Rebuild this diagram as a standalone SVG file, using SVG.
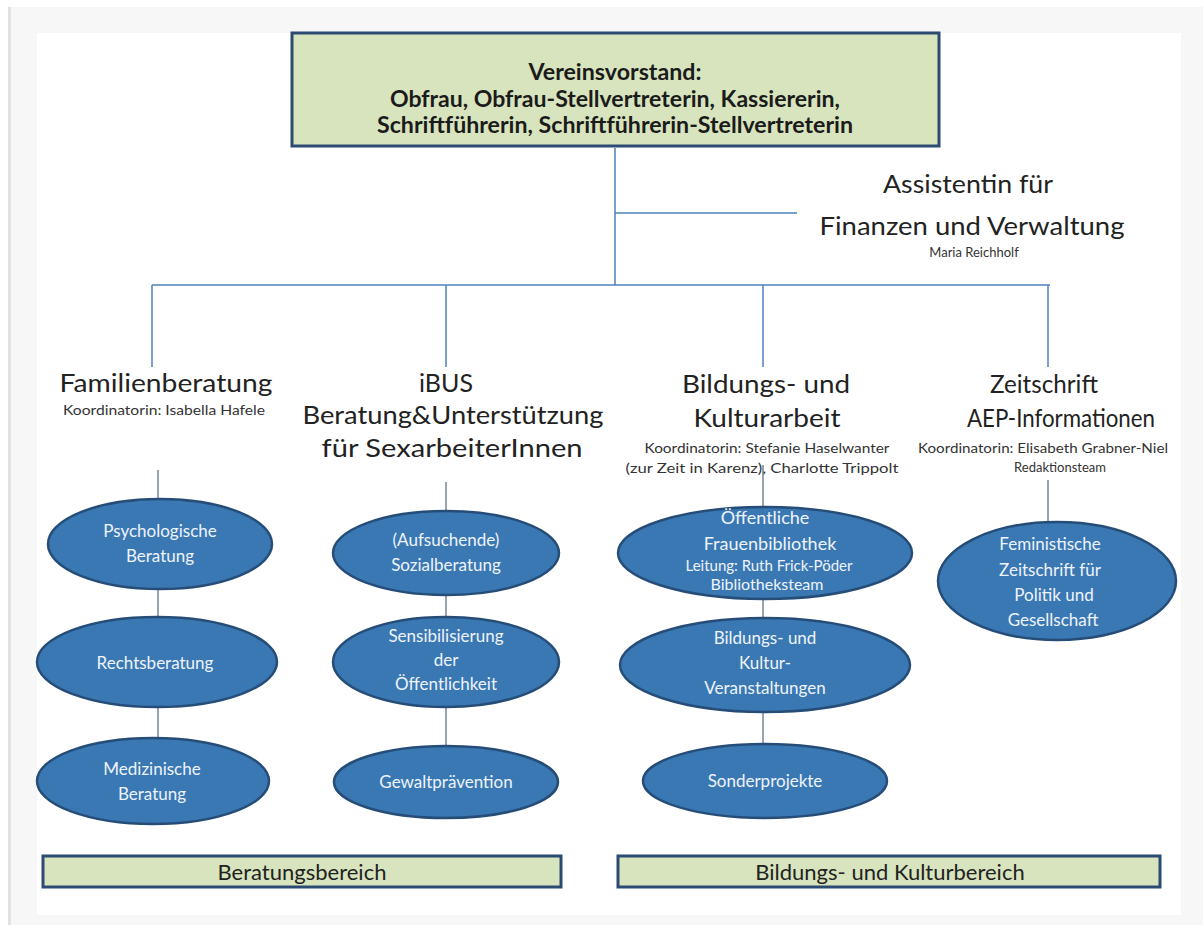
<svg xmlns="http://www.w3.org/2000/svg" width="1203" height="925" viewBox="0 0 1203 925">
<style>
text{font-family:Lato,"Open Sans","Liberation Sans",sans-serif;text-anchor:middle}
.b{font-weight:700;font-size:22px;fill:#1b1b1b}
.h{font-size:25px;fill:#222}
.s{font-size:13px;fill:#333}
.e{font-size:17px;fill:#eef3fa}
.bar{font-size:22px;fill:#222}
.tree{stroke:#4f81bd;stroke-width:1.5;fill:none}
.chain{stroke:#7a8796;stroke-width:1.5;fill:none}
ellipse{fill:#3a78b4;stroke:#264d78;stroke-width:2.5}
.box{fill:#d7e4bd;stroke:#2b4b73;stroke-width:3}
</style>
<rect x="0" y="0" width="1203" height="925" fill="#ffffff"/>
<rect x="10" y="7" width="1193" height="918" fill="#f7f7f7"/>
<rect x="8" y="7" width="3" height="918" fill="#e2e2e2"/>
<rect x="37" y="33" width="1144" height="882" fill="#ffffff"/>

<g id="connectors">
<path class="tree" d="M615 148V285M615 213H797M152 285H1050M152 285V367M446 285V367M763 285V367M1048 285V367"/>
<path class="chain" d="M158 470V499M158 589V617M158 707V738"/>
<path class="chain" d="M446 482V511M446 595V617M446 707V746"/>
<path class="chain" d="M763 465V507M763 598V618M763 712V744"/>
<path class="chain" d="M1048 480V522"/>
</g>

<g id="vorstand">
<rect class="box" x="292" y="33" width="647" height="113"/>
<text class="b" x="615" y="80" textLength="173" lengthAdjust="spacingAndGlyphs">Vereinsvorstand:</text>
<text class="b" x="615" y="107" textLength="450" lengthAdjust="spacingAndGlyphs">Obfrau, Obfrau-Stellvertreterin, Kassiererin,</text>
<text class="b" x="615" y="133" textLength="476" lengthAdjust="spacingAndGlyphs">Schriftführerin, Schriftführerin-Stellvertreterin</text>
</g>

<g id="assistentin">
<text class="h" x="968" y="193" textLength="170" lengthAdjust="spacingAndGlyphs">Assistentin für</text>
<text class="h" x="972" y="235" textLength="305" lengthAdjust="spacingAndGlyphs">Finanzen und Verwaltung</text>
<text class="s" x="974" y="257">Maria Reichholf</text>
</g>

<g id="familienberatung">
<text class="h" x="166" y="392" textLength="213" lengthAdjust="spacingAndGlyphs">Familienberatung</text>
<text class="s" x="164" y="415" textLength="202" lengthAdjust="spacingAndGlyphs">Koordinatorin: Isabella Hafele</text>
</g>

<g id="ibus">
<text class="h" x="446" y="392">iBUS</text>
<text class="h" x="453" y="424" textLength="301" lengthAdjust="spacingAndGlyphs">Beratung&amp;Unterstützung</text>
<text class="h" x="452" y="457" textLength="261" lengthAdjust="spacingAndGlyphs">für SexarbeiterInnen</text>
</g>

<g id="bildung">
<text class="h" x="766" y="393" textLength="168" lengthAdjust="spacingAndGlyphs">Bildungs- und</text>
<text class="h" x="767" y="427" textLength="147" lengthAdjust="spacingAndGlyphs">Kulturarbeit</text>
<text class="s" x="767" y="453" textLength="245" lengthAdjust="spacingAndGlyphs">Koordinatorin: Stefanie Haselwanter</text>
<text class="s" x="762" y="473" textLength="273" lengthAdjust="spacingAndGlyphs">(zur Zeit in Karenz), Charlotte Trippolt</text>
</g>

<g id="zeitschrift">
<text class="h" x="1044" y="393" textLength="108" lengthAdjust="spacingAndGlyphs">Zeitschrift</text>
<text class="h" x="1061" y="427" textLength="188" lengthAdjust="spacingAndGlyphs">AEP-Informationen</text>
<text class="s" x="1043" y="453" textLength="250" lengthAdjust="spacingAndGlyphs">Koordinatorin: Elisabeth Grabner-Niel</text>
<text class="s" x="1060" y="472">Redaktionsteam</text>
</g>

<g id="psychologische">
<ellipse cx="160" cy="544" rx="112" ry="45"/>
<text class="e" x="160" y="537">Psychologische</text>
<text class="e" x="160" y="562">Beratung</text>
</g>
<g id="rechtsberatung">
<ellipse cx="157" cy="662" rx="120" ry="45"/>
<text class="e" x="155" y="669">Rechtsberatung</text>
</g>
<g id="medizinische">
<ellipse cx="153" cy="781" rx="116" ry="43"/>
<text class="e" x="152" y="775">Medizinische</text>
<text class="e" x="152" y="800">Beratung</text>
</g>

<g id="sozialberatung">
<ellipse cx="446" cy="553" rx="113" ry="42"/>
<text class="e" x="446" y="546">(Aufsuchende)</text>
<text class="e" x="446" y="571">Sozialberatung</text>
</g>
<g id="sensibilisierung">
<ellipse cx="446" cy="662" rx="113" ry="45"/>
<text class="e" x="446" y="642">Sensibilisierung</text>
<text class="e" x="446" y="666">der</text>
<text class="e" x="446" y="690">Öffentlichkeit</text>
</g>
<g id="gewaltpraevention">
<ellipse cx="446" cy="782" rx="112" ry="36"/>
<text class="e" x="446" y="788">Gewaltprävention</text>
</g>

<g id="frauenbibliothek">
<ellipse cx="765" cy="553" rx="147" ry="46"/>
<text class="e" x="765" y="524" style="font-size:18px">Öffentliche</text>
<text class="e" x="770" y="550" style="font-size:18px">Frauenbibliothek</text>
<text class="e" x="769" y="571" style="font-size:15px">Leitung: Ruth Frick-Pöder</text>
<text class="e" x="767" y="590" style="font-size:16px">Bibliotheksteam</text>
</g>
<g id="veranstaltungen">
<ellipse cx="765" cy="665" rx="145" ry="47"/>
<text class="e" x="765" y="644">Bildungs- und</text>
<text class="e" x="765" y="669">Kultur-</text>
<text class="e" x="765" y="694">Veranstaltungen</text>
</g>
<g id="sonderprojekte">
<ellipse cx="765" cy="781" rx="122" ry="37"/>
<text class="e" x="765" y="787">Sonderprojekte</text>
</g>

<g id="feministische">
<ellipse cx="1057" cy="581" rx="119" ry="59"/>
<text class="e" x="1050" y="550">Feministische</text>
<text class="e" x="1050" y="576">Zeitschrift für</text>
<text class="e" x="1054" y="601">Politik und</text>
<text class="e" x="1053" y="626">Gesellschaft</text>
</g>

<g id="beratungsbereich">
<rect class="box" x="43" y="856" width="518" height="31"/>
<text class="bar" x="302" y="880">Beratungsbereich</text>
</g>
<g id="kulturbereich">
<rect class="box" x="618" y="856" width="542" height="31"/>
<text class="bar" x="890" y="880">Bildungs- und Kulturbereich</text>
</g>
</svg>
